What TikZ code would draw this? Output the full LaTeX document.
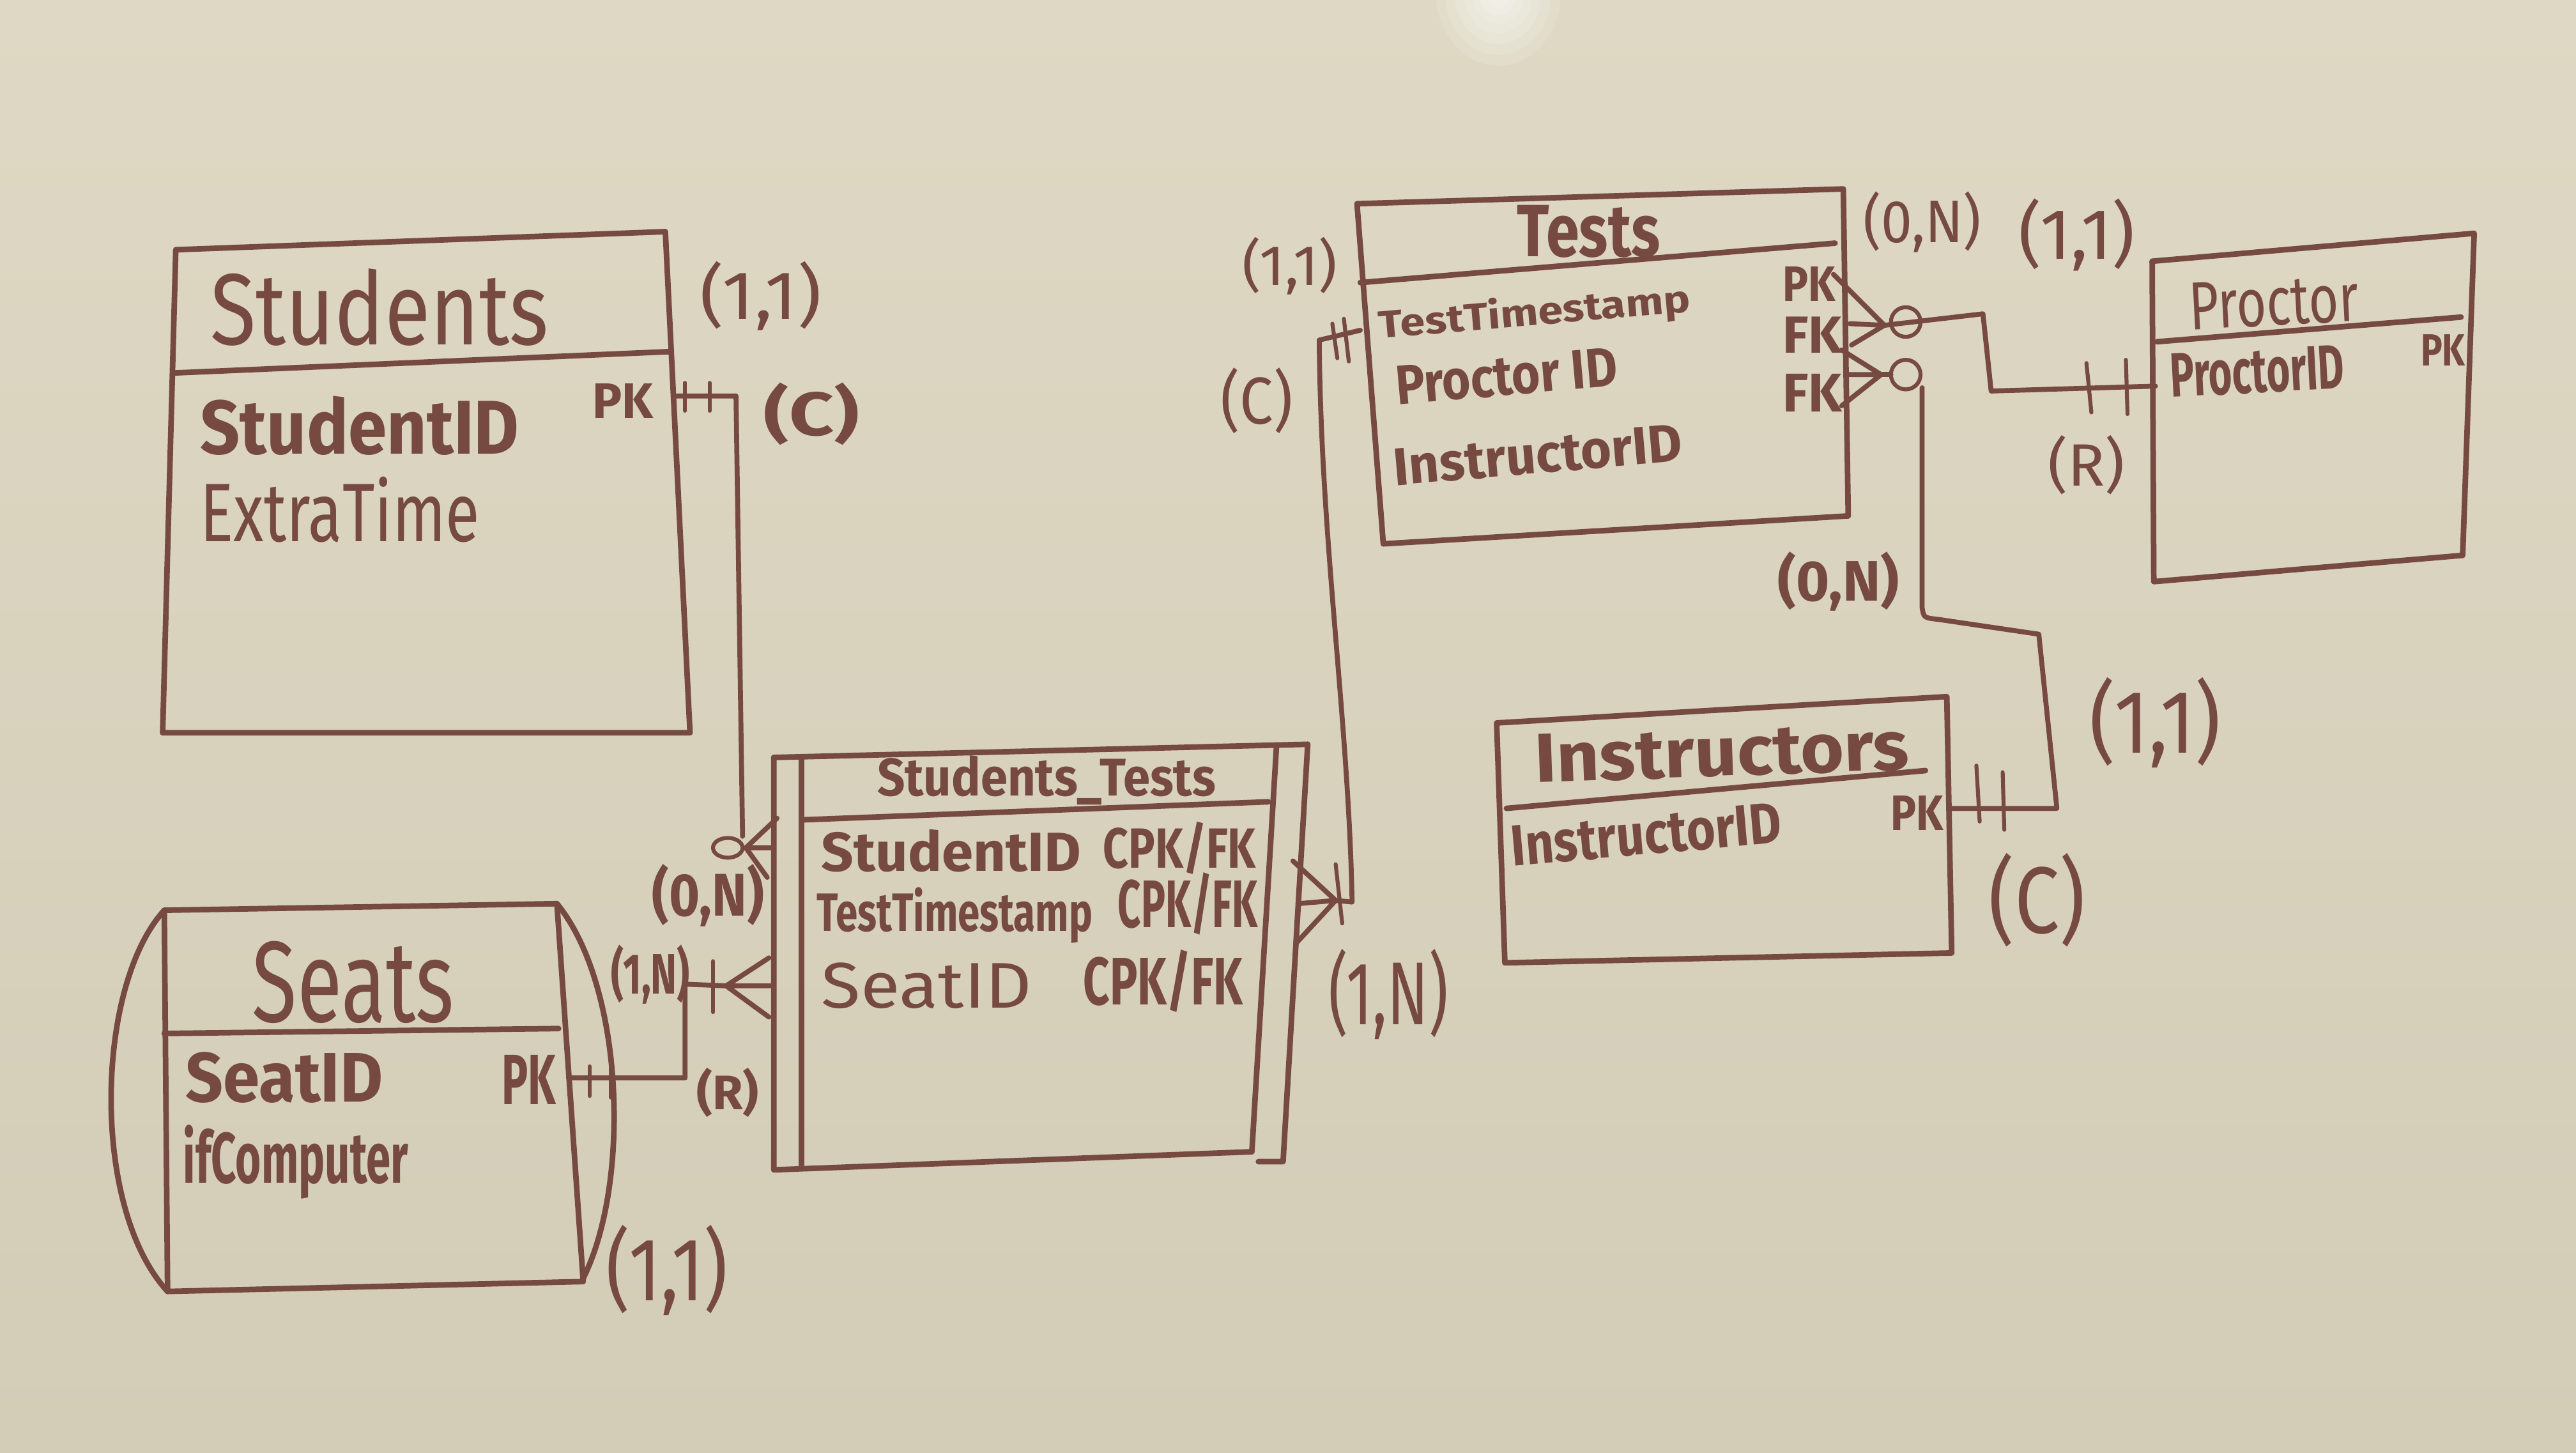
\documentclass[tikz,border=0pt]{standalone}
\usepackage{fontspec}
\setmainfont{Fira Sans}
\usepackage{graphicx}
\newlength\U \setlength\U{0.25mm}
\newcommand\hw[3]{\resizebox*{#1\U}{#2\U}{#3}}
\definecolor{ink}{RGB}{118,74,64}
\definecolor{board}{RGB}{222,216,196}
\definecolor{boardlow}{RGB}{211,204,183}
\begin{document}
\begin{tikzpicture}[x=0.25mm,y=-0.25mm,
  box/.style={draw=ink, line width=0.85mm, line cap=round, line join=round},
  conn/.style={draw=ink, line width=0.75mm, line cap=round, line join=round},
  tick/.style={draw=ink, line width=0.6mm, line cap=round},
  lbl/.style={text=ink, inner sep=0pt},
  ]
\useasboundingbox (0,0) rectangle (1568,884);
\shade[top color=board, bottom color=boardlow] (0,0) rectangle (1568,884);
\begin{scope}
\clip (0,0) rectangle (1568,884);
\foreach \r in {1.0,0.85,0.7,0.55,0.42,0.3,0.2}
  \fill[white, opacity=0.13] (912,-4) ellipse [x radius=38*\r, y radius=44*\r];
\end{scope}

% ---------------- Students ----------------
\draw[box] (107,152) -- (405,141) -- (420,446) -- (99,446) -- cycle;
\draw[box] (106,227) -- (408,214);
\node[lbl] (nStudents) at (231,187) {\hw{206}{47}{Students}};
\node[lbl] (nStudentID) at (219,259) {\hw{194}{36}{\bfseries StudentID}};
\node[lbl] (nStudentPK) at (379,244) {\hw{37}{21}{\bfseries PK}};
\node[lbl] (nExtra) at (207,310) {\hw{170}{40}{ExtraTime}};

% ---------------- Seats ----------------
\draw[box] (100,554) -- (339,550) -- (355,780) -- (102,786) -- cycle;
\draw[box] (100,554) .. controls (58,600) and (55,735) .. (102,786);
\draw[box] (339,550) .. controls (380,600) and (384,720) .. (355,778);
\draw[box] (100,629) -- (340,626);
\node[lbl] (nSeats) at (215,598) {\hw{123}{50}{Seats}};
\node[lbl] (nSeatID) at (173,656) {\hw{120}{31}{\bfseries SeatID}};
\node[lbl] (nSeatPK) at (322,657) {\hw{33}{30}{\bfseries PK}};
\node[lbl] (nIfComp) at (180,707) {\hw{137}{45}{\bfseries ifComputer}};

% ---------------- Students_Tests ----------------
\draw[box] (471,461) -- (796,453);
\draw[box] (471,461) -- (471,712) -- (762,701);
\draw[box] (488,461) -- (488,710);
\draw[box] (777,454) -- (762,701);
\draw[box] (796,453) -- (781,707) -- (766,707);
\draw[box] (488,499) -- (772,488);
\node[lbl] (nST) at (637,475) {\hw{206}{30}{\bfseries Students\_Tests}};
\node[lbl] (nST1) at (579,518) {\hw{158}{26}{\bfseries StudentID}};
\node[lbl] (nST1k) at (718,516) {\hw{93}{32}{\bfseries CPK/FK}};
\node[lbl] (nST2) at (581,557) {\hw{168}{34}{\bfseries TestTimestamp}};
\node[lbl] (nST2k) at (723,550) {\hw{85}{38}{\bfseries CPK/FK}};
\node[lbl] (nST3) at (564,600) {\hw{128}{28}{SeatID}};
\node[lbl] (nST3k) at (708,597) {\hw{97}{38}{\bfseries CPK/FK}};

% ---------------- Tests ----------------
\draw[box] (826,124) -- (1122,115) -- (1125,314) -- (842,331) -- cycle;
\draw[box] (828,172) -- (1117,148);
\node[lbl] (nTests) at (967,141) {\hw{87}{32}{\bfseries Tests}};
\node[lbl, rotate=5] (nT1) at (934,191) {\hw{190}{24}{\bfseries TestTimestamp}};
\node[lbl, rotate=5] (nT2) at (917,229) {\hw{135}{24}{\bfseries Proctor ID}};
\node[lbl, rotate=5] (nT3) at (936,277) {\hw{176}{23}{\bfseries InstructorID}};
\node[lbl] (nTPK) at (1101,173) {\hw{32}{21}{\bfseries PK}};
\node[lbl] (nTFK1) at (1103,204) {\hw{36}{22}{\bfseries FK}};
\node[lbl] (nTFK2) at (1103,239) {\hw{36}{23}{\bfseries FK}};

% ---------------- Proctor ----------------
\draw[box] (1310,159) -- (1506,142) -- (1499,338) -- (1311,354) -- cycle;
\draw[box] (1313,208) -- (1498,193);
\node[lbl, rotate=3] (nProctor) at (1384,184) {\hw{103}{29}{Proctor}};
\node[lbl, rotate=3] (nProctorID) at (1374,226) {\hw{106}{27}{\bfseries ProctorID}};
\node[lbl] (nPPK) at (1487,213) {\hw{27}{19}{\bfseries PK}};

% ---------------- Instructors ----------------
\draw[box] (911,440) -- (1185,424) -- (1188,580) -- (916,586) -- cycle;
\draw[box] (917,492) -- (1172,469);
\node[lbl, rotate=2] (nInstr) at (1048,458) {\hw{228}{30}{\bfseries Instructors}};
\node[lbl, rotate=5] (nInstrID) at (1002,508) {\hw{165}{25}{\bfseries InstructorID}};
\node[lbl] (nIPK) at (1167,495) {\hw{32}{21}{\bfseries PK}};

% ---------------- cardinality labels ----------------
\node[lbl] (c1) at (463,180) {\hw{74}{42}{(1,1)}};
\node[lbl] (c2) at (494,252) {\hw{58}{38}{\bfseries (C)}};
\node[lbl] (c3) at (431,545) {\hw{68}{38}{\bfseries (0,N)}};
\node[lbl] (c4) at (396,593) {\hw{48}{36}{\bfseries (1,N)}};
\node[lbl] (c5) at (443,665) {\hw{38}{30}{\bfseries (R)}};
\node[lbl] (c6) at (406,773) {\hw{74}{55}{(1,1)}};
\node[lbl] (c7) at (845,605) {\hw{73}{55}{(1,N)}};
\node[lbl] (c8) at (785,162) {\hw{58}{35}{(1,1)}};
\node[lbl] (c9) at (765,244) {\hw{44}{40}{(C)}};
\node[lbl] (c10) at (1170,135) {\hw{72}{37}{(0,N)}};
\node[lbl] (c11) at (1264,143) {\hw{71}{44}{(1,1)}};
\node[lbl] (c12) at (1270,283) {\hw{47}{36}{(R)}};
\node[lbl] (c13) at (1119,354) {\hw{74}{36}{\bfseries (0,N)}};
\node[lbl] (c14) at (1312,440) {\hw{80}{55}{(1,1)}};
\node[lbl] (c15) at (1240,548) {\hw{59}{57}{(C)}};

% ---------------- connectors ----------------
% Students -> Students_Tests
\coordinate (sPK) at (410,241);
\coordinate (sBend) at (448,241);
\coordinate (sDown) at (452,509);
\coordinate (sO) at (443,516);
\coordinate (sV) at (454,516);
\draw[conn] (sPK) -- (sBend) -- (sDown);
\draw[tick] (sO) ellipse [x radius=9, y radius=6];
\draw[conn] (sV) -- (473,498) (sV) -- (469,516) (sV) -- (467,534);
\draw[tick] (417,233) -- (417,250) (432,233) -- (432,250);

% Seats -> Students_Tests
\coordinate (sePK) at (346,656);
\coordinate (seB1) at (417,656);
\coordinate (seB2) at (417,599);
\coordinate (seV) at (442,600);
\draw[conn] (sePK) -- (seB1) -- (seB2) -- (seV);
\draw[conn] (seV) -- (468,583) (seV) -- (469,600) (seV) -- (468,619);
\draw[tick] (434,585) -- (434,616);
\draw[tick] (359,649) -- (359,667) (372,647) -- (372,668);

% Students_Tests -> Tests
\coordinate (tL) at (828,201);
\coordinate (tC) at (803,207);
\coordinate (stR) at (823,549);
\coordinate (stV) at (813,548);
\draw[conn] (tL) -- (tC) .. controls (804,330) and (821,440) .. (stR) -- (stV);
\draw[conn] (stV) -- (787,524) (stV) -- (790,550) (stV) -- (789,574);
\draw[tick] (813,526) -- (817,562);
\draw[tick] (811,197) -- (814,218) (818,194) -- (821,220);

% Tests -> Proctor
\coordinate (cf1) at (1147,198);
\coordinate (o1) at (1160,196);
\coordinate (p1) at (1207,191);
\coordinate (p2) at (1212,238);
\coordinate (pL) at (1312,235);
\draw[conn] (cf1) -- (1116,167) (cf1) -- (1126,197) (cf1) -- (1127,210);
\draw[tick] (o1) circle[radius=9];
\draw[conn] (cf1) -- (p1) -- (p2) -- (pL);
\draw[tick] (1270,221) -- (1273,251) (1294,219) -- (1295,252);

% Tests -> Instructors
\coordinate (cf2) at (1145,228);
\coordinate (o2) at (1160,228);
\coordinate (i0) at (1170,236);
\coordinate (i1) at (1170,370);
\coordinate (i2) at (1241,386);
\coordinate (i3) at (1252,492);
\coordinate (iPK) at (1187,492);
\draw[conn] (cf2) -- (1121,213) (cf2) -- (1125,228) (cf2) -- (1121,247);
\draw[conn] (cf2) -- (1151,228);
\draw[tick] (o2) circle[radius=9];
\draw[conn] (i0) -- (i1) .. controls (1171,376) .. (1180,377) -- (i2) -- (i3) -- (iPK);
\draw[tick] (1203,466) -- (1205,500) (1219,470) -- (1220,505);
\end{tikzpicture}
\end{document}
